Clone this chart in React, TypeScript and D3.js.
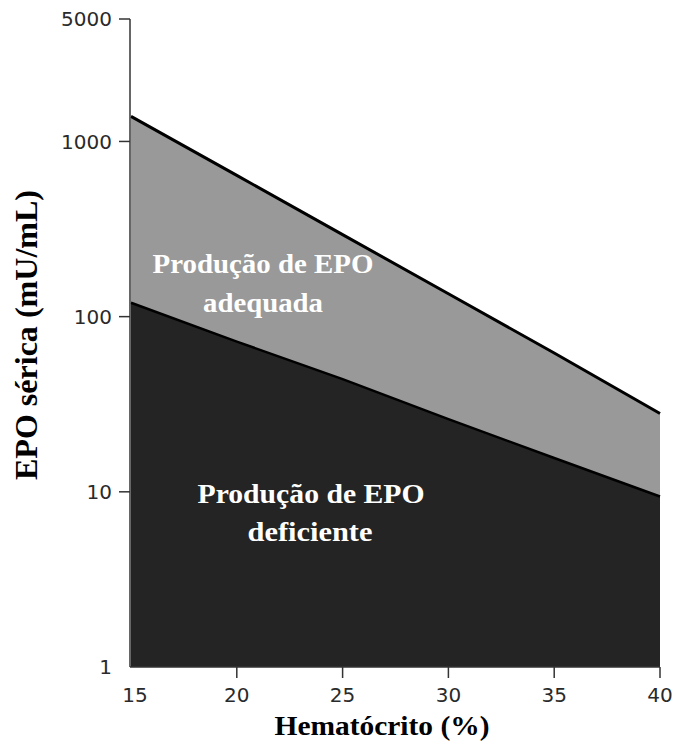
import React, { useEffect, useRef } from 'react';
import * as d3 from 'd3';

// Hematócrito (%) no eixo x
const hematocrit = [15, 20, 25, 30, 35, 40];
// limite superior (produção adequada) e inferior (produção deficiente), mU/mL
const upperEpo = [1390, 640, 294, 135, 62, 28];
const lowerEpo = [120, 72, 44, 26, 15.6, 9.4];

const xTicks = [15, 20, 25, 30, 35, 40];
const yTicks = [5000, 1000, 100, 10, 1];

const App = () => {
  const svgRef = useRef<SVGSVGElement>(null);
  const width = 673;
  const height = 744;

  useEffect(() => {
    const svg = d3.select(svgRef.current);
    svg.selectAll('*').remove();

    const x = d3.scaleLinear().domain([15, 40]).range([131, 660]);
    const y = d3.scaleLog().domain([1, 5000]).range([667, 19]);

    const rows = hematocrit.map((h, i) => ({ h, up: upperEpo[i], low: lowerEpo[i] }));

    // área cinzenta entre as duas curvas
    const upperArea = d3.area<any>()
      .x(d => x(d.h))
      .y0(d => y(d.low))
      .y1(d => y(d.up));

    // área escura abaixo da curva inferior
    const lowerArea = d3.area<any>()
      .x(d => x(d.h))
      .y0(y(1))
      .y1(d => y(d.low));

    svg.append('path').attr('d', upperArea(rows)).attr('fill', '#999999');
    svg.append('path').attr('d', lowerArea(rows)).attr('fill', '#242424');

    const line = (key: 'up' | 'low') => d3.line<any>()
      .x(d => x(d.h))
      .y(d => y(d[key]));

    svg.append('path').attr('d', line('up')(rows))
      .attr('fill', 'none').attr('stroke', '#000').attr('stroke-width', 3);
    svg.append('path').attr('d', line('low')(rows))
      .attr('fill', 'none').attr('stroke', '#000').attr('stroke-width', 2.5);

    // eixos
    svg.append('line')
      .attr('x1', x(15) - 1).attr('x2', x(15) - 1)
      .attr('y1', y(5000)).attr('y2', y(1))
      .attr('stroke', '#333').attr('stroke-width', 1.5);
    svg.append('line')
      .attr('x1', x(15) - 1).attr('x2', x(40))
      .attr('y1', y(1)).attr('y2', y(1))
      .attr('stroke', '#333').attr('stroke-width', 1.5);

    const tickFont = 'DejaVu Sans, Verdana, sans-serif';

    // ticks do eixo y
    yTicks.forEach(t => {
      if (t !== 1) {
        svg.append('line')
          .attr('x1', x(15) - 12).attr('x2', x(15) - 1)
          .attr('y1', y(t)).attr('y2', y(t))
          .attr('stroke', '#333').attr('stroke-width', 1.5);
      }
      svg.append('text')
        .attr('x', 112)
        .attr('y', y(t))
        .attr('dy', '0.36em')
        .attr('text-anchor', 'end')
        .attr('font-family', tickFont)
        .attr('font-size', 20)
        .attr('fill', '#2a2a2a')
        .text(d3.format('d')(t));
    });

    // ticks do eixo x
    xTicks.forEach(t => {
      if (t !== 15) {
        svg.append('line')
          .attr('x1', x(t)).attr('x2', x(t))
          .attr('y1', y(1)).attr('y2', y(1) + 11)
          .attr('stroke', '#333').attr('stroke-width', 1.5);
      }
      svg.append('text')
        .attr('x', t === 15 ? x(t) + 4 : x(t))
        .attr('y', 702)
        .attr('text-anchor', 'middle')
        .attr('font-family', tickFont)
        .attr('font-size', 20)
        .attr('fill', '#2a2a2a')
        .text(t);
    });

    const serif = '"Liberation Serif", "Times New Roman", serif';

    // títulos dos eixos
    svg.append('text')
      .attr('x', 382).attr('y', 735)
      .attr('text-anchor', 'middle')
      .attr('font-family', serif).attr('font-weight', 'bold').attr('font-size', 27)
      .attr('textLength', 215).attr('lengthAdjust', 'spacingAndGlyphs')
      .text('Hematócrito (%)');

    svg.append('text')
      .attr('transform', 'translate(37,335) rotate(-90)')
      .attr('text-anchor', 'middle')
      .attr('font-family', serif).attr('font-weight', 'bold').attr('font-size', 31)
      .attr('textLength', 290).attr('lengthAdjust', 'spacingAndGlyphs')
      .text('EPO sérica (mU/mL)');

    // rótulos das regiões
    const labels = [
      { text: 'Produção de EPO', cx: 263, y: 273, len: 221 },
      { text: 'adequada', cx: 263, y: 312, len: 120 },
      { text: 'Produção de EPO', cx: 311, y: 503, len: 227 },
      { text: 'deficiente', cx: 310, y: 541, len: 125 }
    ];
    labels.forEach(l => {
      svg.append('text')
        .attr('x', l.cx).attr('y', l.y)
        .attr('text-anchor', 'middle')
        .attr('font-family', serif).attr('font-weight', 'bold').attr('font-size', 27)
        .attr('fill', '#ffffff')
        .attr('textLength', l.len).attr('lengthAdjust', 'spacingAndGlyphs')
        .text(l.text);
    });
  }, []);

  return (
    <svg
      ref={svgRef}
      width={width}
      height={height}
      style={{ position: 'absolute', left: 0, top: 0, background: '#fff', display: 'block' }}
    />
  );
};

export default App;
